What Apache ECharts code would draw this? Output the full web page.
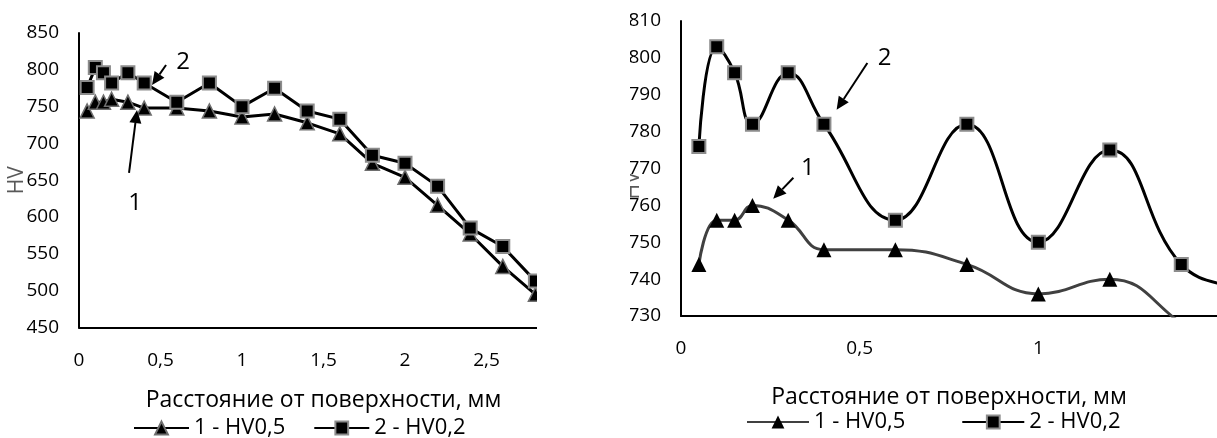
<!DOCTYPE html>
<html>
<head>
<meta charset="utf-8">
<script src="https://cdn.jsdelivr.net/npm/echarts@6/dist/echarts.min.js"></script>
<style>
  html, body { margin: 0; padding: 0; background: #fff; }
  #chart { width: 1217px; height: 438px; }
</style>
</head>
<body>
<div id="chart"></div>
<script>
// расстояние от поверхности, мм
const distance = [0.05, 0.1, 0.15, 0.2, 0.3, 0.4, 0.6, 0.8, 1.0, 1.2, 1.4, 1.6, 1.8, 2.0, 2.2, 2.4, 2.6, 2.8];
// 1 - HV0,5
const hv05 = [744, 756, 756, 760, 756, 748, 748, 744, 736, 740, 728, 713, 673, 654, 616, 577, 533, 495];
// 2 - HV0,2
const hv02 = [776, 803, 796, 782, 796, 782, 756, 782, 750, 775, 744, 733, 684, 673, 642, 585, 560, 513];

const xTitle = 'Расстояние от поверхности, мм';
const yTitle = 'HV';
const name1 = '1 - HV0,5';
const name2 = '2 - HV0,2';

// подписи-стрелки "1" и "2" (в координатах данных)
const notesLeft = [
  { from: [0.534, 806.5], to: [0.448, 779.4], text: '2', at: [0.638, 810.6] },
  { from: [0.307, 659.9], to: [0.356, 745.4], text: '1', at: [0.344, 619.2] }
];
const notesRight = [
  { from: [0.5215, 798.6], to: [0.4355, 785.9], text: '2', at: [0.570, 800] },
  { from: [0.3145, 767.5], to: [0.258, 761.8], text: '1', at: [0.355, 770.2] }
];

const font = 'Open Sans';
const comma = v => String(v).replace('.', ',');
const pairs = ys => distance.map((d, i) => [d, ys[i]]);

const axisLineStyle = { color: '#000', width: 2 };
const labelStyle = { color: '#000', fontSize: 19, fontFamily: font };

function xAxis(gridIndex, max, margin, gap) {
  return {
    gridIndex: gridIndex, type: 'value', min: 0, max: max, interval: 0.5,
    axisLine: { onZero: false, lineStyle: axisLineStyle },
    axisTick: { show: false }, splitLine: { show: false },
    axisLabel: Object.assign({ margin: margin, formatter: comma, showMaxLabel: false }, labelStyle),
    name: xTitle, nameLocation: 'middle', nameGap: gap, nameMoveOverlap: false,
    nameTextStyle: { color: '#000', fontSize: 23, fontFamily: font }
  };
}
function yAxis(gridIndex, min, max, interval, gap, pad) {
  return {
    gridIndex: gridIndex, type: 'value', min: min, max: max, interval: interval,
    axisLine: { show: true, onZero: false, lineStyle: axisLineStyle },
    axisTick: { show: false }, splitLine: { show: false },
    axisLabel: Object.assign({ margin: 20 }, labelStyle),
    name: yTitle, nameLocation: 'middle', nameGap: gap, nameRotate: 90, nameMoveOverlap: false,
    nameTextStyle: { color: '#595959', fontSize: 21, fontFamily: font, padding: pad }
  };
}

const triStyle = { color: '#000', borderColor: '#6e6e6e', borderWidth: 1.5 };
const sqStyle = { color: '#000', borderColor: '#8c8c8c', borderWidth: 2 };

const chart = echarts.init(document.getElementById('chart'));
chart.setOption({
  animation: false,
  backgroundColor: '#fff',
  grid: [
    { left: 79, top: 33, width: 489, height: 294.5 },
    { left: 681, top: 21, width: 558, height: 295 }
  ],
  xAxis: [xAxis(0, 3, 24, 61), xAxis(1, 1.5, 23, 70)],
  yAxis: [yAxis(0, 450, 850, 50, 51, 0), yAxis(1, 730, 810, 10, 37, [0, 34, 0, 0])],
  legend: [
    {
      left: 128, top: 412, itemWidth: 55, itemHeight: 16, itemGap: 28,
      textStyle: { color: '#000', fontSize: 22, fontFamily: font },
      data: [name1, name2]
    },
    {
      left: 741, top: 406, itemWidth: 62, itemHeight: 16, itemGap: 56,
      textStyle: { color: '#000', fontSize: 22, fontFamily: font },
      data: [
        { name: name1, lineStyle: { color: '#404040' }, itemStyle: { borderWidth: 0 } },
        name2
      ]
    }
  ],
  series: [
    {
      name: name1, type: 'line', xAxisIndex: 0, yAxisIndex: 0, data: pairs(hv05),
      symbol: 'triangle', symbolSize: 14, itemStyle: triStyle,
      lineStyle: { color: '#000', width: 3 }, z: 2
    },
    {
      name: name2, type: 'line', xAxisIndex: 0, yAxisIndex: 0, data: pairs(hv02),
      symbol: 'rect', symbolSize: 13, itemStyle: sqStyle,
      lineStyle: { color: '#000', width: 3 }, z: 3
    },
    {
      name: name1, type: 'line', xAxisIndex: 1, yAxisIndex: 1, data: pairs(hv05),
      smooth: 0.45, clip: true,
      symbol: 'triangle', symbolSize: 15, itemStyle: { color: '#000' },
      lineStyle: { color: '#404040', width: 3 }, z: 2
    },
    {
      name: name2, type: 'line', xAxisIndex: 1, yAxisIndex: 1, data: pairs(hv02),
      smooth: 0.45, clip: true,
      symbol: 'rect', symbolSize: 13, itemStyle: sqStyle,
      lineStyle: { color: '#000', width: 3 }, z: 3
    }
  ]
});

// стрелки с цифрами
function arrow(p1, p2) {
  const a = Math.atan2(p2[1] - p1[1], p2[0] - p1[0]);
  const len = 13, half = 6;
  const bx = p2[0] - len * Math.cos(a), by = p2[1] - len * Math.sin(a);
  const nx = -Math.sin(a) * half, ny = Math.cos(a) * half;
  return [
    { type: 'line', shape: { x1: p1[0], y1: p1[1], x2: bx, y2: by }, style: { stroke: '#000', lineWidth: 2 }, z: 10 },
    { type: 'polygon', shape: { points: [[p2[0], p2[1]], [bx + nx, by + ny], [bx - nx, by - ny]] }, style: { fill: '#000' }, z: 10 }
  ];
}
function notes(list, gridIndex) {
  let out = [];
  list.forEach(n => {
    const f = chart.convertToPixel({ gridIndex: gridIndex }, n.from);
    const t = chart.convertToPixel({ gridIndex: gridIndex }, n.to);
    const c = chart.convertToPixel({ gridIndex: gridIndex }, n.at);
    out = out.concat(arrow(f, t));
    out.push({
      type: 'text', x: c[0], y: c[1], z: 10,
      style: { text: n.text, fill: '#000', font: '24px "Open Sans"', align: 'center', verticalAlign: 'middle' }
    });
  });
  return out;
}

chart.setOption({
  graphic: [
    // левый график обрезан справа
    { type: 'rect', shape: { x: 537, y: 0, width: 93, height: 372 }, style: { fill: '#fff' }, z: 9 }
  ].concat(notes(notesLeft, 0), notes(notesRight, 1))
});
</script>
</body>
</html>
